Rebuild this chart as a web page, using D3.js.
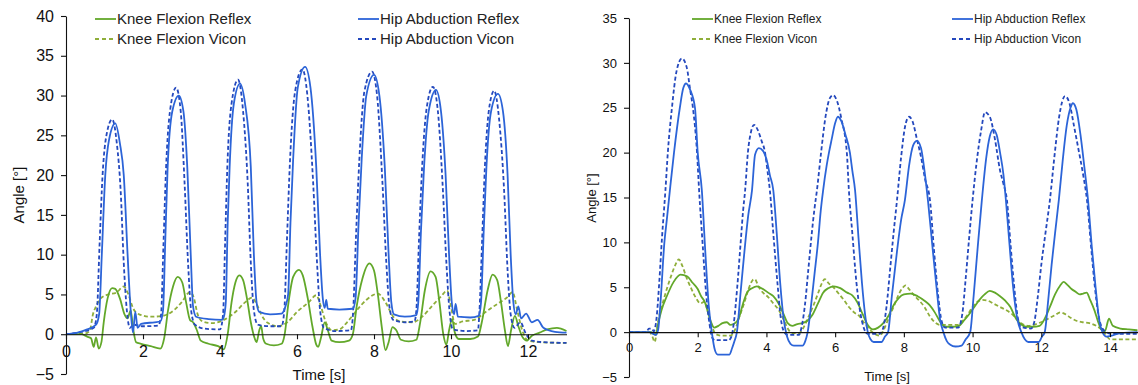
<!DOCTYPE html>
<html>
<head>
<meta charset="utf-8">
<script src="https://cdn.jsdelivr.net/npm/d3@7"></script>
<style>
  body { margin: 0; background: #fff; }
  svg { display: block; }
</style>
</head>
<body>
<svg id="chart" width="1138" height="385"></svg>
<script>
// ---- data: [time (s), angle (deg)] ----
const legendLabels = ["Knee Flexion Reflex", "Knee Flexion Vicon", "Hip Abduction Reflex", "Hip Abduction Vicon"];

const leftYTicks = [-5, 0, 5, 10, 15, 20, 25, 30, 35, 40];
const leftXTicks = [0, 2, 4, 6, 8, 10, 12];
const rightYTicks = [-5, 0, 5, 10, 15, 20, 25, 30, 35];
const rightXTicks = [0, 2, 4, 6, 8, 10, 12, 14];

const leftKneeReflex = [[0,0],[0.4,0],[0.55,-0.3],[0.65,-0.5],[0.72,-1.6],[0.78,-0.4],[0.85,-1.8],[0.92,-1.0],[0.98,1.5],[1.08,4.5],[1.2,5.8],[1.28,5.7],[1.4,4.5],[1.52,2.5],[1.6,2.0],[1.68,3.0],[1.75,0.5],[1.82,-1.0],[1.95,-1.2],[2.2,-1.5],[2.45,-1.8],[2.55,-0.5],[2.65,3.0],[2.78,6.0],[2.9,7.2],[3.02,6.5],[3.12,4.0],[3.22,1.8],[3.3,1.5],[3.4,0.5],[3.5,-0.8],[3.7,-1.2],[3.95,-1.5],[4.1,-1.9],[4.2,0],[4.3,4],[4.4,6.5],[4.5,7.4],[4.6,6.8],[4.7,4.5],[4.8,1.5],[4.9,-0.5],[4.95,-1.0],[5.02,0.5],[5.07,1.0],[5.12,-0.5],[5.2,-1.2],[5.4,-1.4],[5.6,-1.2],[5.68,0],[5.78,4],[5.9,7.2],[6.05,8.1],[6.15,7.4],[6.28,4.5],[6.4,1],[6.5,-1.3],[6.55,-1.6],[6.62,-0.5],[6.72,1.5],[6.8,0.5],[6.9,-0.8],[7.1,-1.0],[7.35,-0.8],[7.45,0],[7.55,3.5],[7.7,7.0],[7.88,8.9],[8.0,8.0],[8.1,5.0],[8.2,1.0],[8.3,-2.0],[8.38,-1.0],[8.48,0.9],[8.58,0.5],[8.7,-0.7],[8.9,-0.9],[9.1,-0.7],[9.2,1.5],[9.32,5.5],[9.47,7.9],[9.6,7.2],[9.7,4.0],[9.8,0],[9.88,-1.3],[9.95,0.5],[10.03,1.9],[10.1,0.2],[10.2,-0.6],[10.5,-0.6],[10.7,-0.3],[10.8,1.5],[10.95,5.5],[11.08,7.5],[11.2,6.8],[11.3,4],[11.4,0.5],[11.48,-1.5],[11.56,0.5],[11.66,2.3],[11.75,1.0],[11.85,-0.3],[11.97,-0.8],[12.1,-0.2],[12.3,0.2],[12.5,0.6],[12.75,0.8],[13.0,0.4]];

const leftKneeVicon = [[0,0],[0.5,0.1],[0.62,0.5],[0.7,2.5],[0.78,3.5],[0.9,4.5],[1.1,5.0],[1.3,5.2],[1.5,6.0],[1.62,5.0],[1.75,3.2],[1.9,2.5],[2.2,2.2],[2.5,2.3],[2.8,3.0],[3.0,4.0],[3.22,5.3],[3.32,4.6],[3.42,2.5],[3.55,1.6],[3.8,1.4],[4.1,1.8],[4.4,2.8],[4.65,4.0],[4.83,4.6],[4.95,3.8],[5.08,2.4],[5.25,1.4],[5.5,1.0],[5.75,1.5],[6.0,2.8],[6.3,4.0],[6.5,4.9],[6.62,3.5],[6.75,1.5],[6.9,0.5],[7.1,0.6],[7.3,1.5],[7.55,3.0],[7.8,4.3],[8.1,5.1],[8.3,4.0],[8.5,2.2],[8.7,1.6],[9.0,1.5],[9.25,2.2],[9.5,3.5],[9.75,4.8],[9.9,5.5],[10.0,3.5],[10.1,1.3],[10.3,1.6],[10.6,1.8],[10.9,2.8],[11.2,3.8],[11.45,4.6],[11.6,5.3],[11.72,3.0],[11.85,0.5],[12.0,-0.8],[12.3,-1.0],[13.0,-1.1]];

const leftHipReflex = [[0,0],[0.3,0.2],[0.55,0.6],[0.78,1.2],[0.86,2.5],[0.93,10],[1.02,20],[1.12,24.5],[1.28,26.5],[1.4,24],[1.5,20],[1.6,10],[1.68,3],[1.74,0.2],[1.8,2.8],[1.86,0.8],[1.95,1.3],[2.3,1.5],[2.45,1.6],[2.52,3],[2.58,12],[2.64,21],[2.76,28],[2.93,30],[3.05,28],[3.15,21],[3.24,10],[3.3,3.5],[3.38,2.2],[3.7,1.9],[4.05,1.8],[4.1,2.2],[4.15,4],[4.2,14],[4.25,21],[4.36,29],[4.52,31.5],[4.65,29],[4.8,21],[4.88,10],[4.95,4],[5.02,2.8],[5.3,2.5],[5.6,2.6],[5.7,3.5],[5.77,5],[5.83,14],[5.9,22],[6.02,31],[6.21,33.6],[6.35,31],[6.5,21],[6.6,10],[6.67,4.5],[6.72,3.3],[6.76,4.3],[6.8,3.2],[7.1,3.1],[7.45,3.2],[7.52,4.5],[7.6,14],[7.68,22],[7.8,30],[8.0,32.6],[8.14,30],[8.28,21],[8.38,10],[8.45,4],[8.52,2.5],[8.8,2.2],[9.1,2.4],[9.15,4],[9.22,13],[9.3,21],[9.42,28],[9.61,30.7],[9.74,28],[9.86,20],[9.95,10],[10.02,4],[10.08,2.5],[10.12,3.8],[10.18,2.2],[10.5,2.1],[10.72,2.3],[10.78,4],[10.85,13],[10.92,21],[11.04,28],[11.22,30.2],[11.35,28],[11.47,20],[11.55,10],[11.62,4],[11.68,2.5],[11.75,3.5],[11.82,2.0],[11.95,2.6],[12.1,1.5],[12.25,1.8],[12.4,0.8],[12.7,0.3],[13.0,0.2]];

const leftHipVicon = [[0,0],[0.4,0.3],[0.72,0.8],[0.8,2.5],[0.87,11],[0.95,20],[1.05,25],[1.2,27],[1.32,24],[1.42,18],[1.5,9],[1.58,3],[1.66,0.8],[1.75,1.2],[2.0,1.0],[2.4,1.1],[2.47,2.5],[2.53,11],[2.6,21],[2.7,28],[2.86,31],[2.98,28],[3.08,19],[3.17,9],[3.25,3],[3.35,1.2],[3.6,0.7],[4.0,0.6],[4.08,2.5],[4.13,11],[4.19,21],[4.3,29],[4.47,32],[4.6,28],[4.72,19],[4.8,9],[4.88,3],[4.98,1.2],[5.3,1.0],[5.6,1.0],[5.67,3],[5.74,12],[5.82,22],[5.95,30.5],[6.14,33.3],[6.27,30],[6.42,19],[6.52,9],[6.6,3],[6.7,0.8],[7.0,0.4],[7.4,0.5],[7.46,3],[7.53,12],[7.62,22],[7.75,30.5],[7.95,33],[8.08,30],[8.22,19],[8.32,9],[8.4,3.5],[8.5,1.8],[8.8,1.5],[9.05,1.6],[9.1,3],[9.17,12],[9.25,21],[9.37,28.5],[9.53,31.1],[9.66,28],[9.78,19],[9.88,9],[9.96,3],[10.05,0.6],[10.4,0.4],[10.7,0.5],[10.74,3],[10.81,12],[10.88,21],[10.98,28],[11.12,30.6],[11.25,27],[11.38,18],[11.47,8],[11.55,2.5],[11.65,0.8],[11.8,1.5],[11.95,0],[12.1,-0.8],[12.4,-1.0],[13.0,-1.1]];

const rightKneeReflex = [[0,0],[0.65,0],[0.72,-0.2],[0.78,-0.3],[0.85,1.0],[0.95,2.5],[1.1,4],[1.3,5.6],[1.5,6.4],[1.7,6.2],[1.85,5.5],[2.0,4.8],[2.1,4],[2.2,3.4],[2.3,2.2],[2.4,1.0],[2.48,0.5],[2.6,0.7],[2.72,1.0],[2.85,1.1],[2.95,0.8],[3.05,0.9],[3.2,1.6],[3.32,3.2],[3.45,4.5],[3.58,4.9],[3.72,5.1],[3.9,4.8],[4.05,4.4],[4.2,4.0],[4.35,3.2],[4.5,2.0],[4.62,1.0],[4.75,0.7],[4.9,0.9],[5.05,1.0],[5.2,1.3],[5.35,2.0],[5.5,3.2],[5.65,4.4],[5.8,4.9],[5.96,5.1],[6.15,4.9],[6.35,4.4],[6.5,4.1],[6.65,3.3],[6.8,2.0],[6.95,0.8],[7.1,0.3],[7.25,0.5],[7.4,1.0],[7.55,1.8],[7.7,3.0],[7.85,3.8],[8.0,4.2],[8.2,4.3],[8.4,4.0],[8.6,3.5],[8.75,3.0],[8.9,2.2],[9.05,1.2],[9.2,0.6],[9.4,0.6],[9.6,0.7],[9.75,1.3],[9.9,2.0],[10.05,2.8],[10.2,3.6],[10.35,4.2],[10.5,4.6],[10.65,4.4],[10.8,4.0],[10.95,3.5],[11.1,2.8],[11.25,1.6],[11.4,0.9],[11.55,0.6],[11.75,0.6],[11.95,0.7],[12.1,1.5],[12.25,2.8],[12.4,4.2],[12.55,5.2],[12.65,5.6],[12.75,5.3],[12.88,4.8],[13.0,4.5],[13.12,4.2],[13.22,4.3],[13.32,4.4],[13.42,3.6],[13.55,2.4],[13.65,1.2],[13.75,0.3],[13.85,0.1],[13.97,1.5],[14.08,0.7],[14.3,0.4],[14.55,0.3],[14.8,0.2]];

const rightKneeVicon = [[0,0],[0.6,0],[0.68,-0.5],[0.75,-1.1],[0.82,0.5],[0.9,2.2],[1.0,3.5],[1.1,4.8],[1.22,6.2],[1.35,7.5],[1.45,8.1],[1.55,7.4],[1.68,6.0],[1.82,4.8],[1.95,3.8],[2.08,3.2],[2.2,3.4],[2.3,2.2],[2.42,0.6],[2.52,-0.2],[2.7,-0.4],[2.95,-0.4],[3.1,0.4],[3.22,1.8],[3.35,3.2],[3.48,4.8],[3.6,5.8],[3.66,5.9],[3.78,5.0],[3.9,4.4],[4.05,3.9],[4.2,3.2],[4.35,2.5],[4.5,1.4],[4.62,0.4],[4.75,-0.1],[4.95,-0.1],[5.08,0.5],[5.2,1.5],[5.35,2.8],[5.5,4.3],[5.62,5.5],[5.7,5.9],[5.82,5.4],[5.95,5.0],[6.1,4.3],[6.25,3.6],[6.4,2.8],[6.55,2.2],[6.7,1.8],[6.85,1.0],[7.0,0.3],[7.15,-0.2],[7.3,-0.4],[7.42,0.3],[7.55,1.5],[7.7,2.8],[7.85,4.2],[7.98,5.0],[8.05,5.2],[8.15,4.8],[8.3,4.1],[8.45,3.5],[8.6,2.8],[8.75,1.8],[8.9,1.1],[9.05,0.8],[9.3,0.8],[9.55,0.8],[9.7,1.2],[9.85,1.9],[10.0,2.8],[10.15,3.4],[10.28,3.6],[10.45,3.5],[10.6,3.2],[10.8,2.8],[11.0,2.4],[11.15,2.0],[11.3,1.4],[11.45,0.9],[11.65,0.7],[11.85,0.9],[12.05,1.2],[12.25,1.6],[12.4,1.9],[12.55,2.2],[12.7,2.0],[12.85,1.6],[13.0,1.3],[13.2,1.1],[13.4,1.0],[13.6,0.7],[13.75,0.3],[13.88,-0.3],[14.0,-0.8],[14.4,-0.8],[14.8,-0.8]];

const rightHipReflex = [[0,0],[0.6,0],[0.7,-0.2],[0.78,-0.3],[0.85,0.3],[0.92,3.5],[1.03,10],[1.1,12.5],[1.19,15.8],[1.31,20],[1.48,25],[1.58,27.2],[1.66,27.7],[1.78,27],[1.92,25],[2.0,20],[2.12,15.8],[2.22,9],[2.32,3],[2.41,0],[2.5,-2],[2.58,-2.5],[2.92,-2.5],[3.0,-1.8],[3.07,-1],[3.14,0],[3.25,4.5],[3.36,9],[3.47,13],[3.58,15.8],[3.67,19.8],[3.78,20.5],[3.9,20.2],[4.02,19],[4.1,17.5],[4.2,15.8],[4.3,11],[4.4,5.5],[4.5,1.5],[4.6,-0.5],[4.7,-1.3],[4.8,-1.5],[5.05,-1.5],[5.13,-1.0],[5.2,0],[5.3,3],[5.4,6.5],[5.5,10],[5.58,13.5],[5.65,15.8],[5.75,18.5],[5.82,20],[5.9,21.5],[6.0,23.3],[6.08,24],[6.18,23.5],[6.3,22],[6.43,20],[6.5,18],[6.58,15.8],[6.68,10.5],[6.78,5.5],[6.87,2],[6.95,0],[7.03,-0.8],[7.12,-1.1],[7.35,-1.1],[7.45,-0.5],[7.54,0],[7.65,4],[7.8,9],[7.92,12.5],[8.03,14.7],[8.15,18.5],[8.27,20.8],[8.38,21.3],[8.5,20.5],[8.6,18],[8.7,14.7],[8.82,10],[8.95,5],[9.05,1.5],[9.15,0],[9.25,-1.0],[9.35,-1.4],[9.5,-1.6],[9.68,-1.5],[9.8,-0.8],[9.93,0],[10.03,4],[10.15,9.5],[10.27,14.7],[10.4,19.5],[10.5,21.8],[10.6,22.6],[10.7,22],[10.8,20],[10.9,17.5],[10.97,14.7],[11.07,10],[11.18,5],[11.3,1.5],[11.42,0],[11.52,-0.8],[11.62,-1.1],[11.92,-1.1],[12.02,-0.5],[12.1,0],[12.2,3.5],[12.3,7.5],[12.4,11],[12.51,14.7],[12.62,19],[12.74,23],[12.85,25],[12.92,25.5],[13.02,24.8],[13.14,22],[13.25,18.5],[13.36,14.7],[13.47,9.5],[13.58,5],[13.68,1.5],[13.78,0],[13.9,-0.5],[14.05,-0.4],[14.3,-0.1],[14.8,0]];

const rightHipVicon = [[0,0],[0.5,0],[0.58,0.4],[0.66,0.4],[0.72,0.1],[0.8,1.5],[0.88,5.5],[0.96,10.5],[1.06,15.8],[1.13,20],[1.25,25],[1.38,29],[1.54,30.5],[1.68,29.5],[1.78,27],[1.86,25],[1.98,20],[2.04,15.8],[2.14,10],[2.24,4.5],[2.34,1],[2.42,-0.6],[2.5,-0.9],[2.9,-0.9],[2.98,-0.5],[3.05,1],[3.15,5],[3.25,10],[3.32,13.5],[3.38,15.8],[3.46,20],[3.55,22.3],[3.64,23.1],[3.75,22.5],[3.86,21.3],[3.96,20],[4.03,18],[4.1,15.8],[4.2,11],[4.32,5.5],[4.42,1.5],[4.52,0],[4.62,-0.3],[4.95,-0.3],[5.02,0.5],[5.12,3],[5.22,7],[5.32,11],[5.4,13.8],[5.47,15.8],[5.59,20],[5.72,24],[5.85,26.1],[5.94,26.4],[6.05,25.8],[6.18,23.8],[6.34,20],[6.4,15.8],[6.5,11],[6.62,5.5],[6.74,2],[6.85,0.3],[6.95,-0.2],[7.3,-0.2],[7.4,0.5],[7.5,3],[7.6,7],[7.7,11],[7.8,14.7],[7.92,19.5],[8.03,22.8],[8.15,24],[8.25,23.5],[8.38,21.5],[8.5,19.5],[8.62,17],[8.76,14.7],[8.88,9],[9.0,4],[9.1,1.2],[9.2,0.5],[9.58,0.5],[9.7,2],[9.8,6],[9.9,10.5],[10.0,14.7],[10.12,19],[10.25,22.5],[10.36,24.5],[10.5,24],[10.65,21.5],[10.8,18],[10.9,16.5],[11.0,14.7],[11.1,10],[11.2,5.5],[11.3,2],[11.4,0.6],[11.7,0.4],[11.8,1.2],[11.9,4],[12.0,7.5],[12.12,11],[12.25,14.7],[12.38,19.5],[12.52,24],[12.69,26.3],[12.82,25.5],[12.95,23],[13.1,20],[13.22,17.5],[13.33,14.7],[13.45,9.5],[13.56,5],[13.66,2],[13.78,0.4],[13.9,0],[14.05,-0.2],[14.8,-0.2]];

// ---- styles ----
const kneeReflexColor = "#62a82a";
const kneeViconColor = "#8fae3a";
const hipReflexColor = "#2c64d8";
const hipViconColor = "#2448bd";
const font = "Arial, 'Liberation Sans', sans-serif";

const svg = d3.select("#chart");

function drawPanel(p) {
    const x = d3.scaleLinear().domain(p.xDomain).range(p.xRange);
    const y = d3.scaleLinear().domain(p.yDomain).range(p.yRange);

    const g = svg.append("g").attr("font-family", font);

    const line = d3.line()
        .x(d => x(d[0]))
        .y(d => y(d[1]))
        .curve(d3.curveMonotoneX);

    const series = [
        { values: p.kneeVicon, color: kneeViconColor, dashed: true },
        { values: p.kneeReflex, color: kneeReflexColor, dashed: false },
        { values: p.hipVicon, color: hipViconColor, dashed: true },
        { values: p.hipReflex, color: hipReflexColor, dashed: false }
    ];

    g.append("g")
        .attr("fill", "none")
        .attr("stroke-width", 1.8)
        .attr("stroke-linejoin", "round")
        .selectAll("path")
        .data(series)
        .enter().append("path")
        .attr("d", d => line(d.values))
        .attr("stroke", d => d.color)
        .attr("stroke-dasharray", d => d.dashed ? "4,2.5" : null);

    // y axis
    const yAxis = g.append("g")
        .attr("transform", `translate(${x(0)},0)`)
        .call(d3.axisLeft(y).tickValues(p.yTicks).tickSize(5).tickSizeOuter(0).tickPadding(7));
    yAxis.selectAll("text").attr("font-size", p.tickFont).attr("font-family", font).attr("fill", "#111");
    yAxis.selectAll("line, path").attr("stroke", "#111").attr("stroke-width", 1.1);

    // x axis sits on the zero line
    const xAxis = g.append("g")
        .attr("transform", `translate(0,${y(0)})`)
        .call(d3.axisBottom(x).tickValues(p.xTicks).tickSize(5).tickSizeOuter(0).tickPadding(p.xPad));
    xAxis.selectAll("text").attr("font-size", p.tickFont).attr("font-family", font).attr("fill", "#111");
    xAxis.selectAll("line, path").attr("stroke", "#111").attr("stroke-width", 1.1);

    // axis titles
    g.append("text")
        .attr("transform", `translate(${p.yTitle[0]},${p.yTitle[1]}) rotate(-90)`)
        .attr("text-anchor", "middle")
        .attr("font-size", p.titleFont)
        .attr("fill", "#111")
        .text("Angle [°]");

    g.append("text")
        .attr("x", p.xTitle[0])
        .attr("y", p.xTitle[1])
        .attr("text-anchor", "middle")
        .attr("font-size", p.titleFont)
        .attr("fill", "#111")
        .text("Time [s]");

    // legend
    const legendItems = legendLabels.map((label, i) => ({
        label: label,
        color: i < 2 ? (i % 2 ? kneeViconColor : kneeReflexColor) : (i % 2 ? hipViconColor : hipReflexColor),
        dashed: i % 2 === 1,
        lx: p.legendX[Math.floor(i / 2)],
        ly: p.legendY[i % 2]
    }));

    const leg = g.append("g")
        .selectAll("g")
        .data(legendItems)
        .enter().append("g")
        .attr("transform", d => `translate(${d.lx},${d.ly})`);

    leg.append("line")
        .attr("x1", 0).attr("x2", p.legendLen)
        .attr("stroke", d => d.color)
        .attr("stroke-width", 1.8)
        .attr("stroke-dasharray", d => d.dashed ? "4,3" : null);

    leg.append("text")
        .attr("x", p.legendLen + 1)
        .attr("dy", "0.35em")
        .attr("font-size", p.legendFont)
        .attr("fill", "#222")
        .text(d => d.label);
}

drawPanel({
    xDomain: [0, 13], xRange: [66, 566.5],
    yDomain: [-5, 40], yRange: [374, 16],
    xTicks: leftXTicks, yTicks: leftYTicks,
    kneeReflex: leftKneeReflex, kneeVicon: leftKneeVicon,
    hipReflex: leftHipReflex, hipVicon: leftHipVicon,
    tickFont: 16, titleFont: 15, legendFont: 15, xPad: 6,
    yTitle: [24, 195], xTitle: [319, 380],
    legendX: [95, 358], legendY: [19, 39], legendLen: 21
});

drawPanel({
    xDomain: [0, 14.8], xRange: [629, 1137.5],
    yDomain: [-5, 35], yRange: [377, 18],
    xTicks: rightXTicks, yTicks: rightYTicks,
    kneeReflex: rightKneeReflex, kneeVicon: rightKneeVicon,
    hipReflex: rightHipReflex, hipVicon: rightHipVicon,
    tickFont: 13, titleFont: 13, legendFont: 12, xPad: 6,
    yTitle: [596, 198], xTitle: [887, 381],
    legendX: [692, 952], legendY: [19, 39], legendLen: 21
});
</script>
</body>
</html>
